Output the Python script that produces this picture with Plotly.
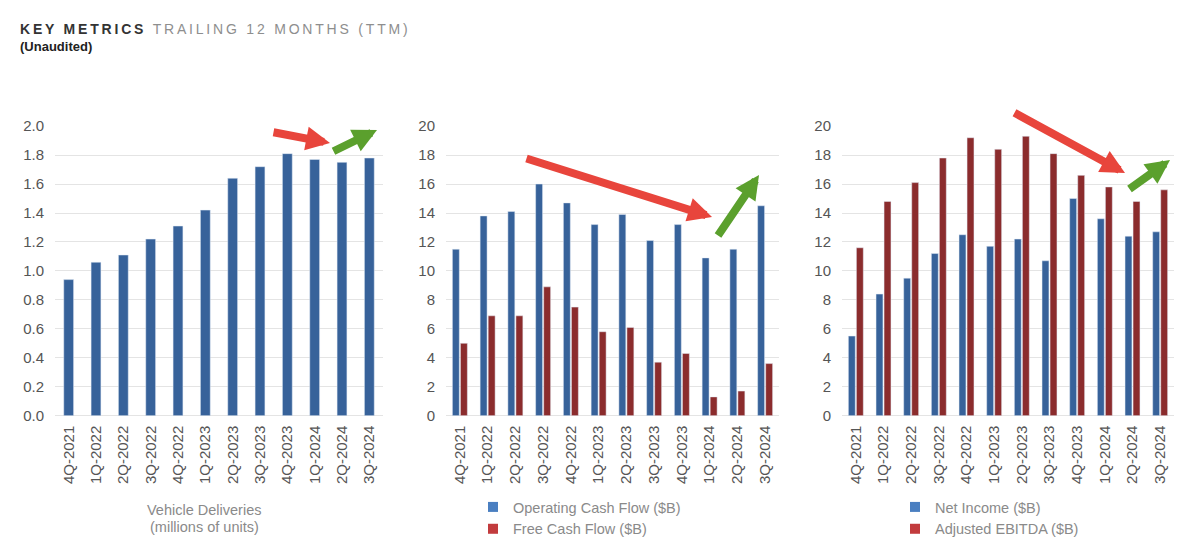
import plotly.graph_objects as go

quarters = ["4Q-2021", "1Q-2022", "2Q-2022", "3Q-2022", "4Q-2022", "1Q-2023",
            "2Q-2023", "3Q-2023", "4Q-2023", "1Q-2024", "2Q-2024", "3Q-2024"]
deliveries = [0.94, 1.06, 1.11, 1.22, 1.31, 1.42, 1.64, 1.72, 1.81, 1.77, 1.75, 1.78]
operating_cf = [11.5, 13.8, 14.1, 16.0, 14.7, 13.2, 13.9, 12.1, 13.2, 10.9, 11.5, 14.5]
free_cf = [5.0, 6.9, 6.9, 8.9, 7.5, 5.8, 6.1, 3.7, 4.3, 1.3, 1.7, 3.6]
net_income = [5.5, 8.4, 9.5, 11.2, 12.5, 11.7, 12.2, 10.7, 15.0, 13.6, 12.4, 12.7]
adj_ebitda = [11.6, 14.8, 16.1, 17.8, 19.2, 18.4, 19.3, 18.1, 16.6, 15.8, 14.8, 15.6]

W, H = 1200, 553
OFF = 8  # page body margin
BLUE = "#37629a"
RED = "#8b2c2d"
LEG_BLUE = "#4a7fc1"
LEG_RED = "#c23b3d"
FONT = "Liberation Sans, Arial, sans-serif"


def px(x):
    return (x - OFF) / W


def py(y):
    return 1 - (y - OFF) / H


fig = go.Figure()

fig.add_trace(go.Bar(x=quarters, y=deliveries, xaxis="x", yaxis="y",
                     marker_color=BLUE, width=0.36, showlegend=False,
                     name="Vehicle Deliveries"))

fig.add_trace(go.Bar(x=quarters, y=operating_cf, xaxis="x2", yaxis="y2",
                     marker_color=BLUE, width=0.25, offset=-0.27, showlegend=False,
                     name="Operating Cash Flow ($B)"))
fig.add_trace(go.Bar(x=quarters, y=free_cf, xaxis="x2", yaxis="y2",
                     marker_color=RED, width=0.25, offset=0.02, showlegend=False,
                     name="Free Cash Flow ($B)"))

fig.add_trace(go.Bar(x=quarters, y=net_income, xaxis="x3", yaxis="y3",
                     marker_color=BLUE, width=0.25, offset=-0.27, showlegend=False,
                     name="Net Income ($B)"))
fig.add_trace(go.Bar(x=quarters, y=adj_ebitda, xaxis="x3", yaxis="y3",
                     marker_color=RED, width=0.25, offset=0.02, showlegend=False,
                     name="Adjusted EBITDA ($B)"))

# legend-only entries
for name, col, leg, ax, ay in [
    ("Operating Cash Flow ($B)", LEG_BLUE, "legend", "x2", "y2"),
    ("Free Cash Flow ($B)", LEG_RED, "legend", "x2", "y2"),
    ("Net Income ($B)", LEG_BLUE, "legend2", "x3", "y3"),
    ("Adjusted EBITDA ($B)", LEG_RED, "legend2", "x3", "y3"),
]:
    fig.add_trace(go.Scatter(x=[None], y=[None], mode="markers", name=name,
                             xaxis=ax, yaxis=ay, legend=leg,
                             marker=dict(symbol="square", size=10, color=col)))

ydom = [py(415.7), py(126)]
xaxis_common = dict(type="category", tickangle=-90, showgrid=False, ticks="",
                    tickfont=dict(size=15, color="#555555", family=FONT),
                    ticklabelstandoff=6, showline=False, automargin=False,
                    fixedrange=True)
yaxis_common = dict(showgrid=True, gridcolor="#e4e4e4", gridwidth=1,
                    zeroline=True, zerolinecolor="#e4e4e4", zerolinewidth=1,
                    ticks="", tickfont=dict(size=15, color="#555555", family=FONT),
                    ticklabelstandoff=10, showline=False, automargin=False,
                    domain=ydom, fixedrange=True)

legend_common = dict(font=dict(size=14.5, color="#8a8a8a", family=FONT),
                     bgcolor="rgba(0,0,0,0)", borderwidth=0,
                     xanchor="left", yanchor="top", tracegroupgap=0,
                     itemsizing="trace", orientation="v")

annotations = [
    dict(x=px(18), y=py(29), xref="paper", yref="paper", xanchor="left", yanchor="middle",
         showarrow=False,
         text="<span style='letter-spacing:2.8px'><b>KEY METRICS</b> "
              "<span style='color:#8e8e8e'>TRAILING 12 MONTHS (TTM)</span></span>",
         font=dict(size=14, color="#333333", family=FONT)),
    dict(x=px(18), y=py(46), xref="paper", yref="paper", xanchor="left", yanchor="middle",
         showarrow=False, text="<b>(Unaudited)</b>",
         font=dict(size=13, color="#222222", family=FONT)),
    dict(x=px(204), y=py(510), xref="paper", yref="paper", xanchor="center",
         yanchor="middle", showarrow=False, text="Vehicle Deliveries",
         font=dict(size=14.5, color="#8a8a8a", family=FONT)),
    dict(x=px(204), y=py(527), xref="paper", yref="paper", xanchor="center",
         yanchor="middle", showarrow=False, text="(millions of units)",
         font=dict(size=14.5, color="#8a8a8a", family=FONT)),
]

# trend arrows: (tail_x, tail_y, tip_x, tip_y, color) in pixels
arrows = [
    (272, 132, 330, 143, "#e8453c"),
    (332, 152, 377, 130, "#5ba02d"),
    (525, 158, 712, 217, "#e8453c"),
    (717, 237, 759, 175, "#5ba02d"),
    (1013, 112, 1125, 173, "#e8453c"),
    (1128, 190, 1170, 160, "#5ba02d"),
]
for tx, ty, hx, hy, col in arrows:
    annotations.append(dict(x=px(hx), y=py(hy), xref="paper", yref="paper",
                            ax=tx - hx, ay=ty - hy, axref="pixel", ayref="pixel",
                            text="", showarrow=True, arrowhead=2, arrowsize=0.6,
                            arrowwidth=8, arrowcolor=col, standoff=0))

fig.update_layout(
    width=W, height=H,
    margin=dict(l=0, r=0, t=0, b=0, autoexpand=False),
    paper_bgcolor="white", plot_bgcolor="white",
    barmode="group",
    font=dict(family=FONT),
    xaxis=dict(domain=[px(55), px(383)], anchor="y", **xaxis_common),
    yaxis=dict(anchor="x", range=[0, 2.001], dtick=0.2, tickformat=".1f", **yaxis_common),
    xaxis2=dict(domain=[px(446), px(779)], anchor="y2", **xaxis_common),
    yaxis2=dict(anchor="x2", range=[0, 20.01], dtick=2, **yaxis_common),
    xaxis3=dict(domain=[px(842), px(1174)], anchor="y3", **xaxis_common),
    yaxis3=dict(anchor="x3", range=[0, 20.01], dtick=2, **yaxis_common),
    legend=dict(x=px(473), y=py(491), **legend_common),
    legend2=dict(x=px(895), y=py(491), **legend_common),
    annotations=annotations,
    showlegend=True,
)

fig.write_html("out.html")
